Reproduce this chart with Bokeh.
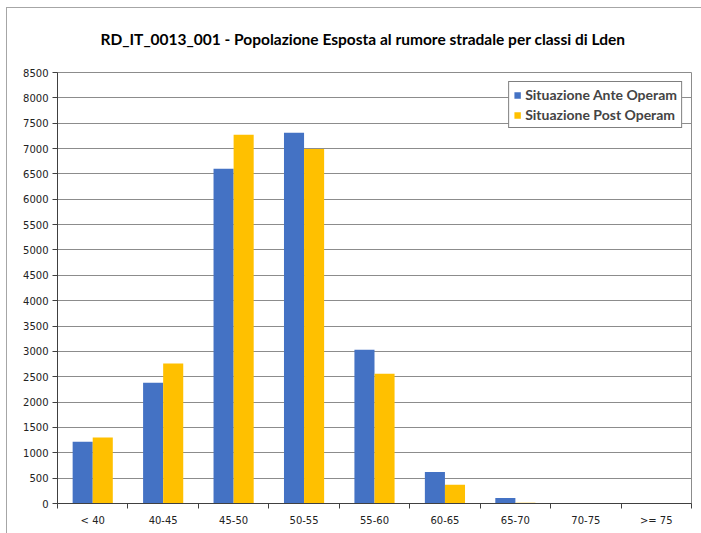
from bokeh.plotting import figure
from bokeh.models import ColumnDataSource, FixedTicker, Legend, LegendItem, Range1d, Title
from bokeh.transform import dodge
from bokeh.embed import file_html
from bokeh.resources import INLINE

categories = ["< 40", "40-45", "45-50", "50-55", "55-60", "60-65", "65-70", "70-75", ">= 75"]
ante = [1220, 2380, 6600, 7310, 3030, 620, 110, 5, 5]
post = [1300, 2760, 7270, 6990, 2560, 370, 15, 5, 5]
series_names = ["Situazione Ante Operam", "Situazione Post Operam"]
colors = ["#4472C4", "#FFC000"]
title_text = "RD_IT_0013_001 - Popolazione Esposta al rumore stradale per classi di Lden"

centers = [i + 0.5 for i in range(len(categories))]
bounds = list(range(len(categories) + 1))
src = ColumnDataSource(dict(x=centers, ante=ante, post=post))

p = figure(width=695, height=526, output_backend="svg", toolbar_location=None,
           x_range=Range1d(0, len(categories)), y_range=Range1d(0, 8500),
           min_border_left=50, min_border_right=11, min_border_top=64, min_border_bottom=31)
p.margin = (7, 0, 0, 6)
p.styles = {"border-left": "1px solid #a6a6a6", "border-top": "1px solid #a6a6a6"}

w = 0.285
r1 = p.vbar(x=dodge("x", -w / 2, range=p.x_range), top="ante", width=w, source=src,
            fill_color=colors[0], line_color=None)
r2 = p.vbar(x=dodge("x", w / 2, range=p.x_range), top="post", width=w, source=src,
            fill_color=colors[1], line_color=None)

# real title is the figure's own title; a blank spacer title sits between it and the frame
p.title.text = title_text
p.title.align = "left"
p.title.vertical_align = "top"
p.title.text_font = "Lato"
p.title.text_font_size = "15.5px"
p.title.text_font_style = "bold"
p.title.text_color = "#000000"
p.title.offset = 43
p.title.standoff = 10

spacer = Title(text=" ", text_font_size="14px", standoff=0)
p.add_layout(spacer, "above")

p.xaxis.ticker = FixedTicker(ticks=centers, minor_ticks=bounds)
p.xaxis.major_label_overrides = {c: lab for c, lab in zip(centers, categories)}
p.xaxis.major_tick_out = 0
p.xaxis.major_tick_in = 0
p.xaxis.minor_tick_out = 5
p.xaxis.minor_tick_in = 0
p.yaxis.ticker = FixedTicker(ticks=list(range(0, 8501, 500)))
p.yaxis.major_tick_out = 5
p.yaxis.major_tick_in = 0
for ax in (p.xaxis, p.yaxis):
    ax.axis_line_color = "#404040"
    ax.major_tick_line_color = "#404040"
    ax.minor_tick_line_color = "#404040"
    ax.major_label_text_font = "DejaVu Sans"
    ax.major_label_text_font_size = "10px"
    ax.major_label_text_color = "#222222"
p.yaxis.minor_tick_line_color = None
p.xaxis.major_label_standoff = 6
p.yaxis.major_label_standoff = 4

p.xgrid.grid_line_color = None
p.ygrid.grid_line_color = "#8c8c8c"
p.ygrid.ticker = FixedTicker(ticks=list(range(0, 8501, 500)))
p.outline_line_color = "#8c8c8c"

legend = Legend(items=[LegendItem(label=series_names[0], renderers=[r1]),
                       LegendItem(label=series_names[1], renderers=[r2])],
                location="top_right")
legend.border_line_color = "#000000"
legend.border_line_width = 1
legend.label_text_font = "Lato"
legend.label_text_font_style = "bold"
legend.label_text_font_size = "14px"
legend.glyph_width = 8
legend.glyph_height = 8
legend.label_height = 14
legend.spacing = 3
legend.padding = 4
legend.margin = 9
legend.label_standoff = 4
legend.background_fill_alpha = 1
p.add_layout(legend)

open("out.html", "w").write(file_html(p, INLINE))
